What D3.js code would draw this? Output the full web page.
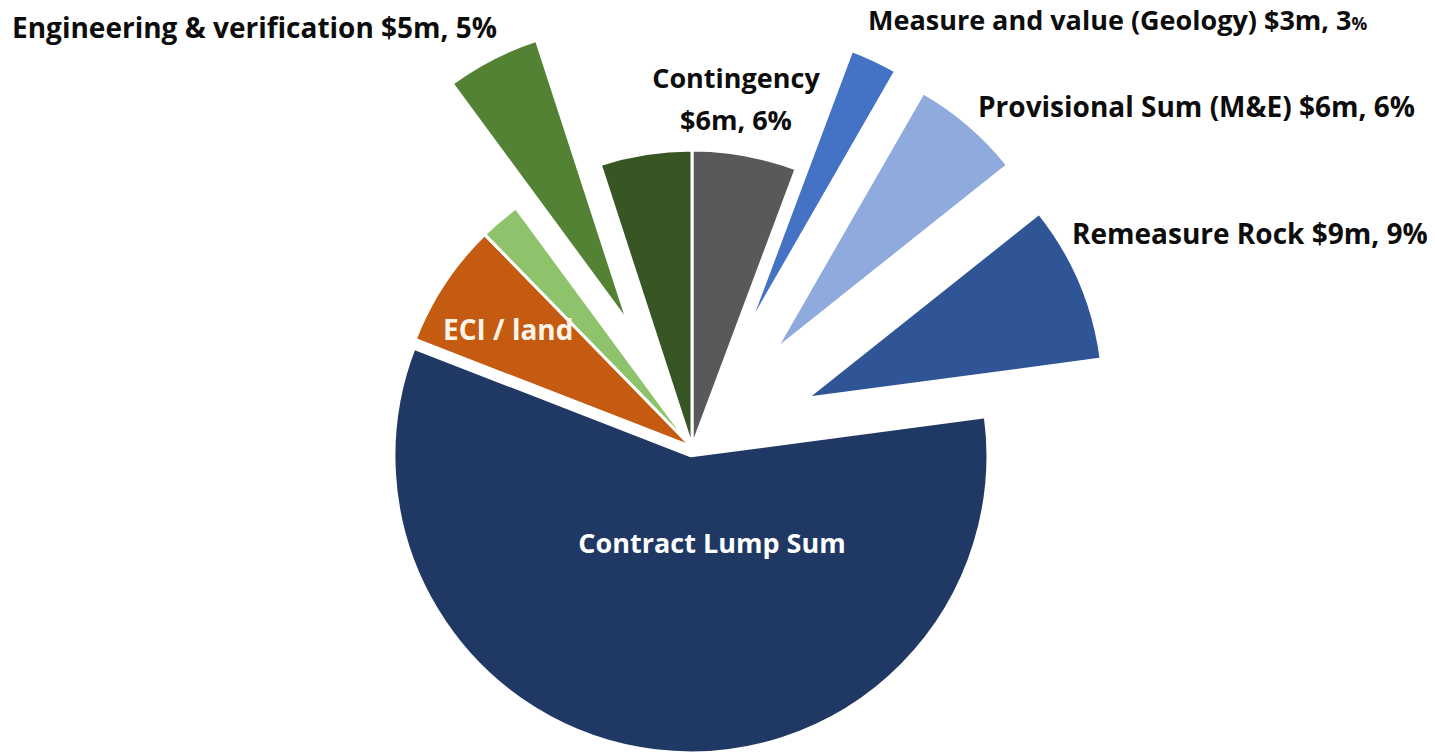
<!DOCTYPE html>
<html>
<head>
<meta charset="utf-8">
<script src="https://cdnjs.cloudflare.com/ajax/libs/d3/7.8.5/d3.min.js"></script>
<style>
    html, body { margin: 0; padding: 0; background: #fff; }
    svg { display: block; }
    .slice-label { font-family: 'Open Sans', 'Noto Sans', sans-serif; font-weight: 700; }
</style>
</head>
<body>
<div id="chart"></div>
<script>
//categories, clockwise from twelve o'clock
var categories = ['Contingency', 'Measure and value (Geology)', 'Provisional Sum (M&E)', 'Remeasure Rock',
    'Contract Lump Sum', 'ECI / land', 'Other costs', 'Engineering & verification', 'Design & management'];

//cost of each category ($m, total about $100m)
var values = [5.7, 2.6, 6.0, 8.6, 58.0, 6.8, 2.2, 5.1, 5.0];

//data label lines of each category (empty when the slice has no label)
var labelTexts = [
    ['Contingency', '$6m, 6%'],
    ['Measure and value (Geology) $3m, 3%'],
    ['Provisional Sum (M&E) $6m, 6%'],
    ['Remeasure Rock $9m, 9%'],
    ['Contract Lump Sum'],
    ['ECI / land'],
    [],
    ['Engineering & verification $5m, 5%'],
    []
];

(function () {
    var width = 1435,
        height = 755,
        cx = 692,
        cy = 447,
        radius = 297;

    //slice fills and explosion (fraction of radius)
    var colors = ['#595959', '#4472C4', '#8FAADC', '#2F5597', '#203864', '#C55A11', '#8FC36B', '#548235', '#375623'],
        explode = [0, 0.44, 0.43, 0.42, 0.03, 0, 0, 0.47, 0];

    //manual label placement, like the hand-dragged labels of the original
    var labelLayout = [
        { x: 736, y: 88, anchor: 'middle', fill: '#0d0d0d', size: 27 },
        { x: 868, y: 30, anchor: 'start', fill: '#0d0d0d', size: 27, smallPercent: true },
        { x: 978, y: 117, anchor: 'start', fill: '#0d0d0d', size: 28 },
        { x: 1072, y: 244, anchor: 'start', fill: '#0d0d0d', size: 28 },
        { x: 712, y: 553, anchor: 'middle', fill: '#ffffff', size: 27 },
        { x: 443, y: 340, anchor: 'start', fill: '#fff4e8', size: 28 },
        null,
        { x: 12, y: 38, anchor: 'start', fill: '#0d0d0d', size: 28 },
        null
    ];

    //build slice rows
    var data = categories.map(function (c, i) {
        return { category: c, value: values[i], index: i };
    });

    var svg = d3.select('#chart').append('svg')
        .attr('width', width)
        .attr('height', height);

    var pieG = svg.append('g')
        .attr('transform', 'translate(' + cx + ',' + cy + ')');

    var pie = d3.pie().sort(null).value(function (d) { return d.value; }),
        arc = d3.arc().innerRadius(0).outerRadius(radius);

    //gets explosion offset of a slice
    var offset = function (d) {
        var mid = (d.startAngle + d.endAngle) / 2,
            e = explode[d.data.index] * radius;
        return [Math.sin(mid) * e, -Math.cos(mid) * e];
    };

    //draw slices
    pieG.selectAll('.slice')
        .data(pie(data))
        .enter().append('path')
        .attr('class', 'slice')
        .attr('d', arc)
        .attr('fill', function (d) { return colors[d.data.index]; })
        .attr('stroke', '#ffffff')
        .attr('stroke-width', 3)
        .attr('stroke-linejoin', 'round')
        .attr('transform', function (d) { return 'translate(' + offset(d).join(',') + ')'; });

    //draw labels
    data.forEach(function (d, i) {
        var lay = labelLayout[i],
            lines = labelTexts[i];
        if (!lay || !lines.length)
            return;

        var text = svg.append('text')
            .attr('class', 'slice-label')
            .attr('x', lay.x)
            .attr('y', lay.y)
            .attr('text-anchor', lay.anchor)
            .attr('fill', lay.fill)
            .style('font-size', lay.size + 'px');

        lines.forEach(function (line, j) {
            var t = text.append('tspan')
                .attr('x', lay.x)
                .attr('dy', j === 0 ? 0 : 42);

            //the original shrinks the trailing percent sign
            if (lay.smallPercent && line.slice(-1) === '%') {
                t.text(line.slice(0, -1));
                t.append('tspan').style('font-size', (lay.size * 0.65) + 'px').text('%');
            } else {
                t.text(line);
            }
        });
    });
})();
</script>
</body>
</html>
